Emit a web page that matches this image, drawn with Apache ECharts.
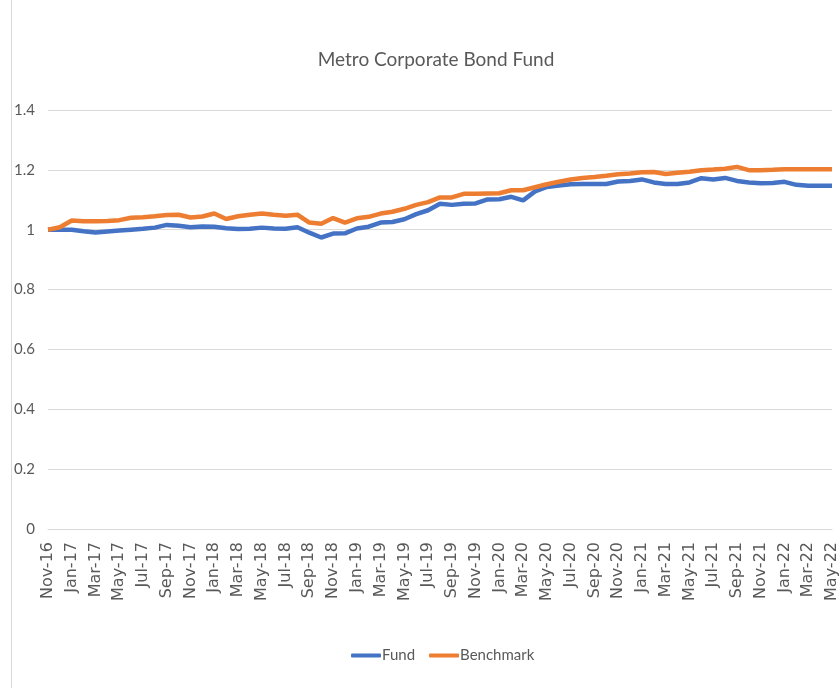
<!DOCTYPE html>
<html>
<head>
<meta charset="utf-8">
<script src="https://cdn.jsdelivr.net/npm/echarts@6/dist/echarts.min.js"></script>
<style>
html,body{margin:0;padding:0;background:#fff;}
#chart{width:840px;height:688px;}
</style>
</head>
<body>
<div id="chart"></div>
<script>
const months = ['Nov-16','Dec-16','Jan-17','Feb-17','Mar-17','Apr-17','May-17','Jun-17','Jul-17','Aug-17','Sep-17','Oct-17',
'Nov-17','Dec-17','Jan-18','Feb-18','Mar-18','Apr-18','May-18','Jun-18','Jul-18','Aug-18','Sep-18','Oct-18',
'Nov-18','Dec-18','Jan-19','Feb-19','Mar-19','Apr-19','May-19','Jun-19','Jul-19','Aug-19','Sep-19','Oct-19',
'Nov-19','Dec-19','Jan-20','Feb-20','Mar-20','Apr-20','May-20','Jun-20','Jul-20','Aug-20','Sep-20','Oct-20',
'Nov-20','Dec-20','Jan-21','Feb-21','Mar-21','Apr-21','May-21','Jun-21','Jul-21','Aug-21','Sep-21','Oct-21',
'Nov-21','Dec-21','Jan-22','Feb-22','Mar-22','Apr-22','May-22'];

const fund = [1.000,1.000,1.000,0.995,0.991,0.994,0.997,1.000,1.003,1.007,1.016,1.013,
1.008,1.011,1.010,1.005,1.002,1.003,1.007,1.004,1.003,1.008,0.990,0.974,
0.987,0.988,1.004,1.010,1.024,1.026,1.035,1.052,1.065,1.087,1.083,1.087,
1.088,1.101,1.102,1.110,1.098,1.128,1.143,1.148,1.152,1.153,1.153,1.153,
1.161,1.163,1.168,1.158,1.153,1.153,1.158,1.172,1.168,1.173,1.163,1.158,
1.155,1.156,1.160,1.150,1.147,1.147,1.147];

const benchmark = [1.000,1.008,1.031,1.028,1.028,1.029,1.032,1.040,1.042,1.045,1.049,1.050,
1.041,1.044,1.054,1.036,1.045,1.050,1.054,1.050,1.047,1.050,1.024,1.020,
1.039,1.024,1.038,1.043,1.054,1.060,1.070,1.083,1.092,1.108,1.108,1.120,
1.120,1.121,1.122,1.132,1.132,1.142,1.152,1.160,1.168,1.173,1.176,1.180,
1.185,1.188,1.192,1.193,1.186,1.190,1.194,1.199,1.201,1.204,1.210,1.199,
1.199,1.200,1.202,1.202,1.202,1.202,1.202];

const yTicks = {min: 0, max: 1.4, interval: 0.2};

const chart = echarts.init(document.getElementById('chart'));
chart.setOption({
  animation: false,
  backgroundColor: '#fff',
  title: {
    text: 'Metro Corporate Bond Fund',
    left: 431, top: 45, textAlign: 'center',
    textStyle: {fontFamily: 'Lato', fontSize: 19, fontWeight: 'normal', color: '#595959'}
  },
  legend: {
    bottom: 20, left: 346,
    icon: 'roundRect', itemWidth: 30, itemHeight: 4, itemGap: 14,
    textStyle: {fontFamily: 'Lato', fontSize: 15, color: '#595959', padding: [0,0,0,-4]},
    data: ['Fund', 'Benchmark']
  },
  grid: {left: 48, right: 7, top: 110, bottom: 159, containLabel: false},
  xAxis: {
    type: 'category', data: months, boundaryGap: false,
    axisLine: {lineStyle: {color: '#d9d9d9'}},
    axisTick: {show: false},
    axisLabel: {interval: 1, rotate: 90, margin: 13, color: '#595959',
      fontFamily: 'DejaVu Sans', fontSize: 16}
  },
  yAxis: {
    type: 'value', min: yTicks.min, max: yTicks.max, interval: yTicks.interval,
    axisLine: {show: false}, axisTick: {show: false},
    splitLine: {lineStyle: {color: '#d9d9d9', width: 1}},
    axisLabel: {margin: 13, color: '#595959', fontFamily: 'Lato', fontSize: 15,
      formatter: v => String(Math.round(v * 10) / 10)}
  },
  series: [
    {name: 'Fund', type: 'line', data: fund, showSymbol: false, symbol: 'none',
     lineStyle: {color: '#4472C4', width: 4.5}, itemStyle: {color: '#4472C4'}},
    {name: 'Benchmark', type: 'line', data: benchmark, showSymbol: false, symbol: 'none',
     lineStyle: {color: '#ED7D31', width: 4.5}, itemStyle: {color: '#ED7D31'}}
  ],
  graphic: [{
    type: 'line', shape: {x1: 11.5, y1: 0, x2: 11.5, y2: 688},
    style: {stroke: '#d9d9d9', lineWidth: 1}
  }]
});
</script>
</body>
</html>
